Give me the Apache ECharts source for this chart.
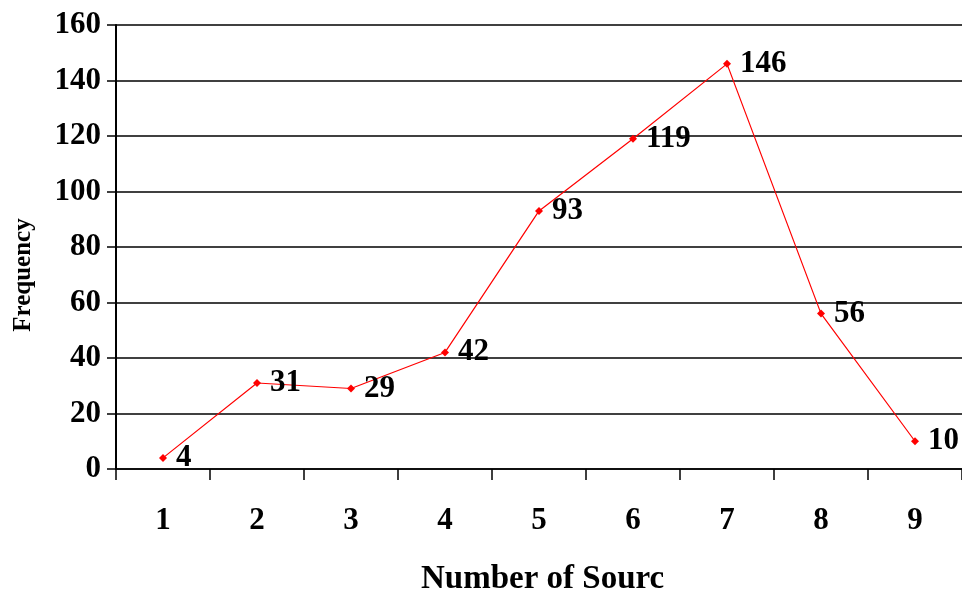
<!DOCTYPE html>
<html>
<head>
<meta charset="utf-8">
<script src="https://cdn.jsdelivr.net/npm/echarts@6/dist/echarts.min.js"></script>
<style>
  html, body { margin: 0; padding: 0; background: #ffffff; }
  #chart { width: 962px; height: 594px; }
</style>
</head>
<body>
<div id="chart"></div>
<script>
// Number of sources per record and how often each count occurs
const sourceCounts = ['1', '2', '3', '4', '5', '6', '7', '8', '9'];
const frequencies = [4, 31, 29, 42, 93, 119, 146, 56, 10];
const yTicks = { min: 0, max: 160, step: 20 };
const xAxisTitle = 'Number of Sources';
const yAxisTitle = 'Frequency';

const serif = '"Liberation Serif", "DejaVu Serif", serif';

const chart = echarts.init(document.getElementById('chart'), null, { renderer: 'canvas' });

chart.setOption({
  backgroundColor: '#ffffff',
  animation: false,
  grid: { left: 116, right: 0, top: 25, bottom: 125, containLabel: false },
  xAxis: {
    type: 'category',
    data: sourceCounts,
    boundaryGap: true,
    axisLine: { show: true, lineStyle: { color: '#000', width: 1.5 } },
    axisTick: { show: true, inside: false, length: 11, alignWithLabel: false,
                lineStyle: { color: '#000', width: 1.5 } },
    axisLabel: { margin: 36, color: '#000', fontFamily: serif, fontWeight: 'bold', fontSize: 31 },
    splitLine: { show: false }
  },
  yAxis: {
    type: 'value',
    min: yTicks.min,
    max: yTicks.max,
    interval: yTicks.step,
    axisLine: { show: true, lineStyle: { color: '#000', width: 2 } },
    axisTick: { show: true, length: 9, lineStyle: { color: '#000', width: 1.5 } },
    axisLabel: { margin: 15, color: '#000', fontFamily: serif, fontWeight: 'bold', fontSize: 31 },
    splitLine: { show: true, lineStyle: { color: '#000', width: 1.5 } }
  },
  series: [{
    type: 'line',
    data: frequencies,
    symbol: 'diamond',
    symbolSize: 8,
    itemStyle: { color: '#ff0000' },
    lineStyle: { color: '#ff0000', width: 1.2 },
    label: {
      show: true,
      position: 'right',
      distance: 9,
      color: '#000',
      fontFamily: serif,
      fontWeight: 'bold',
      fontSize: 31
    },
    clip: false
  }],
  graphic: [
    {
      type: 'text',
      left: 421,
      top: 563,
      silent: true,
      style: {
        text: xAxisTitle,
        fill: '#000',
        font: 'bold 33px ' + serif,
        width: 246,
        overflow: 'truncate',
        ellipsis: ''
      }
    },
    {
      type: 'text',
      x: 24,
      y: 275,
      rotation: Math.PI / 2,
      silent: true,
      style: {
        text: yAxisTitle,
        fill: '#000',
        font: 'bold 25px ' + serif,
        align: 'center',
        verticalAlign: 'middle'
      }
    }
  ]
});
</script>
</body>
</html>
